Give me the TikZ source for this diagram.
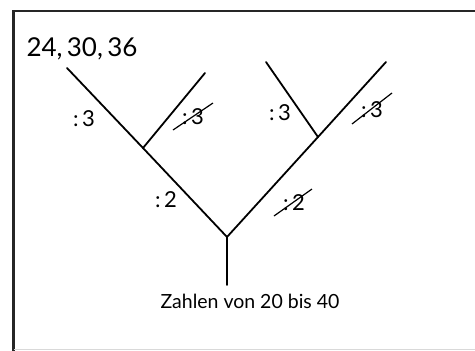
\documentclass[tikz,border=0pt]{standalone}
\usepackage{fontspec}
\setmainfont{Lato}
\begin{document}
\begin{tikzpicture}[x=1pt,y=-1pt,
  branch/.style={line width=1.8pt, line cap=round},
  frame/.style={line width=2.4pt, draw=black!85},
  hand/.style={font=\fontsize{26}{28}\selectfont, inner sep=0pt},
  lbl/.style={font=\fontsize{22}{24}\selectfont, inner sep=0pt},
  strike/.style={line width=1.2pt},
  caption/.style={font=\fontsize{19.5}{22}\selectfont, inner sep=0pt}]
\useasboundingbox (0,0) rectangle (475,351);
% frame
\draw[frame] (13.5,351) -- (13.5,11) -- (475,11);
\draw[line width=0.8pt, draw=black!15] (13.5,349.5) -- (475,349.5);
% tree points
\coordinate (root) at (227,285);
\coordinate (j) at (227,237);
\coordinate (lj) at (143,148);
\coordinate (ltop) at (67,68);
\coordinate (lsub) at (205,73);
\coordinate (rj) at (318,137);
\coordinate (rtop) at (386,62);
\coordinate (rsub) at (266,62);
\draw[branch] (root) -- (j);
\draw[branch] (j) -- (lj) -- (ltop);
\draw[branch] (lj) -- (lsub);
\draw[branch] (j) -- (rj) -- (rtop);
\draw[branch] (rj) -- (rsub);
% texts
\node[hand] (nums) at (82,49) {24,\,30,\,36};
\node[lbl] (l3) at (84,119) {:\,3};
\node[lbl] (l3x) at (193,117) {:\,3};
\node[lbl] (r3) at (280,113) {:\,3};
\node[lbl] (r3x) at (372,110) {:\,3};
\node[lbl] (l2) at (166,200) {:\,2};
\node[lbl] (r2x) at (294,203) {:\,2};
\draw[strike] ([shift={(-20,13)}]l3x.center) -- ([shift={(20,-14)}]l3x.center);
\draw[strike] ([shift={(-20,14)}]r3x.center) -- ([shift={(20,-17)}]r3x.center);
\draw[strike] ([shift={(-20,13)}]r2x.center) -- ([shift={(18,-14)}]r2x.center);
\node[caption] (cap) at (250,301) {Zahlen von 20 bis 40};
\end{tikzpicture}
\end{document}
